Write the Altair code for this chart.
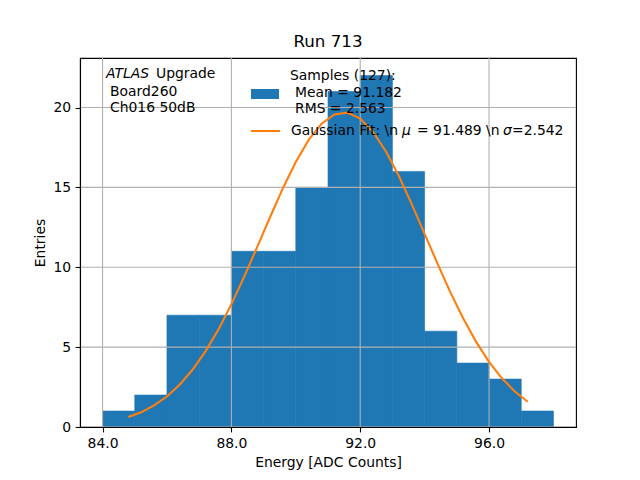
import altair as alt
import pandas as pd

# Histogram data (bin edges and counts)
bin_start = [84, 85, 86, 87, 88, 89, 90, 91, 92, 93, 94, 95, 96, 97]
bin_end = [85, 86, 87, 88, 89, 90, 91, 92, 93, 94, 95, 96, 97, 98]
counts = [1, 2, 7, 7, 11, 11, 15, 21, 22, 16, 6, 4, 3, 1]

# Gaussian fit curve
fit_x = [84.8, 85.2, 85.6, 86.0, 86.4, 86.8, 87.2, 87.6, 88.0, 88.4, 88.8,
         89.2, 89.6, 90.0, 90.4, 90.8, 91.2, 91.6, 92.0, 92.4, 92.8, 93.2,
         93.6, 94.0, 94.4, 94.8, 95.2, 95.6, 96.0, 96.4, 96.8, 97.2]
fit_y = [0.62, 0.92, 1.35, 1.91, 2.66, 3.60, 4.75, 6.11, 7.68, 9.42, 11.26,
         13.13, 14.95, 16.59, 17.97, 18.99, 19.57, 19.68, 19.31, 18.47, 17.25,
         15.71, 13.95, 12.09, 10.23, 8.43, 6.79, 5.33, 4.08, 3.05, 2.22, 1.58]

x_ticks = [84, 88, 92, 96]
y_ticks = [0, 5, 10, 15, 20]

FONT = "DejaVu Sans"
FS = 13.9
W, H = 496, 369

hist_df = pd.DataFrame({"start": bin_start, "end": bin_end, "count": counts})
fit_df = pd.DataFrame({"x": fit_x, "y": fit_y})
xg_df = pd.DataFrame({"x": x_ticks})
yg_df = pd.DataFrame({"y": y_ticks})

xscale = alt.Scale(domain=[83.3, 98.7], nice=False, zero=False)
yscale = alt.Scale(domain=[0, 23.1], nice=False)

xaxis = alt.Axis(values=x_ticks, format=".1f", title="Energy [ADC Counts]",
                 grid=False, zindex=1)
yaxis = alt.Axis(values=y_ticks, title="Entries", grid=False, zindex=1)

bars = alt.Chart(hist_df).mark_rect(
    color="#1f77b4", stroke="#1f77b4", strokeWidth=0.6
).encode(
    x=alt.X("start:Q", scale=xscale, axis=xaxis),
    x2="end:Q",
    y=alt.Y("count:Q", scale=yscale, axis=yaxis),
    y2=alt.datum(0),
)

xgrid = alt.Chart(xg_df).mark_rule(color="#b0b0b0", strokeWidth=1.1).encode(
    x=alt.X("x:Q", scale=xscale)
)
ygrid = alt.Chart(yg_df).mark_rule(color="#b0b0b0", strokeWidth=1.1).encode(
    y=alt.Y("y:Q", scale=yscale)
)

line = alt.Chart(fit_df).mark_line(color="#ff7f0e", strokeWidth=2.1).encode(
    x=alt.X("x:Q", scale=xscale),
    y=alt.Y("y:Q", scale=yscale),
)


def txt(s, x, y, italic=False):
    return alt.Chart(pd.DataFrame({"t": [s]})).mark_text(
        align="left", baseline="middle", font=FONT, fontSize=FS,
        fontStyle="italic" if italic else "normal", color="black",
    ).encode(text="t:N", x=alt.value(x), y=alt.value(y))


texts = [
    txt("ATLAS", 26, 16, italic=True),
    txt("Upgrade", 76, 16),
    txt("Board260", 30, 34),
    txt("Ch016 50dB", 30, 50),
    txt("Samples (127):", 210, 18),
    txt("Mean = 91.182", 215, 35),
    txt("RMS = 2.563", 215, 51),
    txt("Gaussian Fit: \\n", 211, 73),
    txt("μ", 322, 73, italic=True),
    txt("= 91.489 \\n", 337, 73),
    txt("σ", 423, 73, italic=True),
    txt("=2.542", 432, 73),
]

patch = alt.Chart(pd.DataFrame({"a": [0]})).mark_rect(color="#1f77b4").encode(
    x=alt.value(171), x2=alt.value(199), y=alt.value(31), y2=alt.value(41)
)
leg_line = alt.Chart(pd.DataFrame({"a": [0]})).mark_rule(
    color="#ff7f0e", strokeWidth=2.1
).encode(x=alt.value(171), x2=alt.value(200), y=alt.value(73))

chart = alt.layer(bars, xgrid, ygrid, line, patch, leg_line, *texts).properties(
    width=W, height=H,
    title=alt.TitleParams("Run 713", font=FONT, fontSize=16.7,
                          fontWeight="normal", offset=7, color="black"),
    autosize="none",
    padding={"left": 72, "top": 50, "right": 40, "bottom": 45},
).configure_view(
    stroke="black", strokeWidth=1.1
).configure_axis(
    labelFont=FONT, labelFontSize=FS, titleFont=FONT, titleFontSize=FS,
    titleFontWeight="normal", labelColor="black", titleColor="black",
    domainColor="black", domainWidth=1.1, tickColor="black", tickWidth=1.1,
    tickSize=4.9, labelPadding=4.5, titlePadding=5,
)

chart.save("out.html", embed_options={"renderer": "svg", "actions": False})
